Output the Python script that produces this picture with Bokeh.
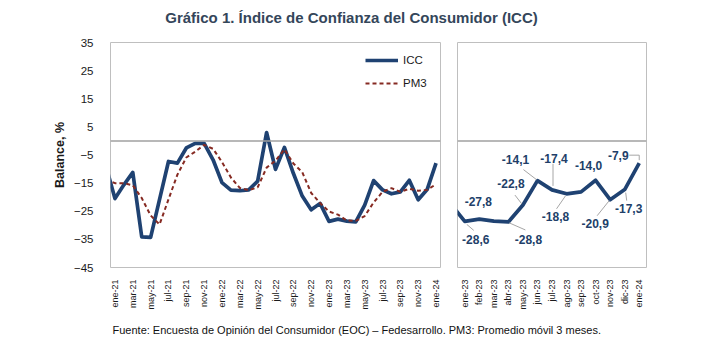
import math
from bokeh.plotting import figure
from bokeh.layouts import column, row
from bokeh.models import (Range1d, FixedTicker, Span, Legend, LegendItem,
                          ColumnDataSource)
from bokeh.core.properties import value
from bokeh.embed import file_html
from bokeh.resources import INLINE

# ---------------- data ----------------
months = ["dic-20",
          "ene-21", "feb-21", "mar-21", "abr-21", "may-21", "jun-21",
          "jul-21", "ago-21", "sep-21", "oct-21", "nov-21", "dic-21",
          "ene-22", "feb-22", "mar-22", "abr-22", "may-22", "jun-22",
          "jul-22", "ago-22", "sep-22", "oct-22", "nov-22", "dic-22",
          "ene-23", "feb-23", "mar-23", "abr-23", "may-23", "jun-23",
          "jul-23", "ago-23", "sep-23", "oct-23", "nov-23", "dic-23",
          "ene-24"]

icc = [-9.0,
       -20.5, -15.6, -11.2, -34.1, -34.3, -20.8, -7.3, -7.9, -2.5, -0.9, -0.9, -6.7,
       -14.8, -17.5, -17.7, -17.4, -14.3, 3.0, -10.1, -2.3, -11.5, -19.6, -24.5, -22.2,
       -28.6, -27.8, -28.5, -28.8, -22.8, -14.1, -17.4, -18.8, -18.1, -14.0, -20.9, -17.3,
       -7.9]

pm3 = [-13.8,
       -15.0, -15.0, -15.8, -20.3, -26.5, -29.7, -20.8, -12.0, -5.9, -3.8, -1.4, -2.8,
       -7.5, -13.0, -16.7, -17.5, -16.5, -9.5, -7.0, -3.0, -8.0, -11.1, -18.5, -22.1,
       -25.1, -26.2, -28.3, -28.4, -26.7, -21.9, -18.1, -16.8, -18.1, -17.0, -17.7, -17.4,
       -15.4]

y_ticks = [-45, -35, -25, -15, -5, 5, 15, 25, 35]

# labelled months in the right panel
label_months = ["ene-23", "feb-23", "abr-23", "may-23", "jun-23", "jul-23",
                "ago-23", "oct-23", "nov-23", "dic-23", "ene-24"]

# ---------------- styles ----------------
FONT = "Liberation Sans"
ICC_COLOR = "#1F4272"
PM3_COLOR = "#862A22"
FRAME_COLOR = "#BFBFBF"
LABEL_COLOR = "#223F69"

# label offsets (px, y down) and leader polylines (px offsets from the point)
label_offsets = {
    "ene-23": (11, 18), "feb-23": (-1, -18), "abr-23": (20, 18),
    "may-23": (-12, -22), "jun-23": (-22, -21), "jul-23": (2, -31),
    "ago-23": (-11, 23), "oct-23": (-7, -15), "nov-23": (-15, 24),
    "dic-23": (4, 19), "ene-24": (-21, -8),
}
leaders = {
    "ene-23": [(2, 3), (9, 9)],
    "abr-23": [(1, 1), (17, 8)],
    "may-23": [(-1, -1), (-8, -10)],
    "jun-23": [(-1, -1), (-14, -11)],
    "jul-23": [(1, -4), (1, -26)],
    "ago-23": [(-1, 2), (-10, 15)],
    "nov-23": [(-1, 1), (-13, 16)],
    "dic-23": [(1, 3), (2, 11)],
    "ene-24": [(-10, -8), (0, -8), (0, -3)],
}

FRAME_H = 225
LEFT_FRAME_W = 330
RIGHT_FRAME_W = 189
TOP = 6
BOTTOM = 50
FIG_H = TOP + FRAME_H + BOTTOM


def style_axes(p):
    p.xgrid.visible = False
    p.ygrid.visible = False
    p.outline_line_color = FRAME_COLOR
    p.outline_line_width = 1
    for ax in (p.xaxis, p.yaxis):
        ax.axis_line_color = None
        ax.major_tick_line_color = None
        ax.minor_tick_line_color = None
        ax.major_label_text_font = FONT
        ax.major_label_text_color = "#1A1A1A"
    p.xaxis.major_label_orientation = math.pi / 2
    p.xaxis.major_label_text_font_size = "9px"
    p.xaxis.major_label_standoff = 6
    p.yaxis.major_label_text_font_size = "11.5px"
    p.yaxis.major_label_standoff = 11
    p.yaxis.ticker = FixedTicker(ticks=y_ticks)
    p.add_layout(Span(location=0, dimension="width", line_color="#A0A0A0",
                      line_width=1.5))


# ---------------- left panel ----------------
n = len(months)
x_all = [i - 1 for i in range(n)]          # dic-20 sits at -1 (outside the axis)
src_left = ColumnDataSource(dict(x=x_all, icc=icc, pm3=pm3))

left = figure(width=102 + LEFT_FRAME_W + 5, height=FIG_H,
              x_range=Range1d(-0.5, n - 1.5), y_range=Range1d(-45, 35),
              output_backend="svg", toolbar_location=None,
              min_border_left=102, min_border_right=5,
              min_border_top=TOP, min_border_bottom=BOTTOM)
style_axes(left)
left_ticks = list(range(0, n - 1, 2))
left.xaxis.ticker = FixedTicker(ticks=left_ticks)
left.xaxis.major_label_overrides = {t: months[t + 1] for t in left_ticks}
left.yaxis.axis_label = "Balance, %"
left.yaxis.axis_label_text_font = FONT
left.yaxis.axis_label_text_font_style = "bold"
left.yaxis.axis_label_text_font_size = "12.5px"
left.yaxis.axis_label_text_color = "#1A1A1A"
left.yaxis.axis_label_standoff = 4

r_icc = left.line("x", "icc", source=src_left, line_color=ICC_COLOR,
                  line_width=3.7, line_join="round")
r_pm3 = left.line("x", "pm3", source=src_left, line_color=PM3_COLOR,
                  line_width=2, line_dash="4 3")

legend = Legend(items=[LegendItem(label="ICC", renderers=[r_icc]),
                       LegendItem(label="PM3", renderers=[r_pm3])],
                location="top_right", border_line_color=None,
                background_fill_alpha=0, padding=7, margin=8,
                glyph_width=33, glyph_height=20, label_height=20,
                label_width=29, label_standoff=5, spacing=3,
                label_text_font=FONT, label_text_font_size="11.5px",
                label_text_color="#1A1A1A")
left.add_layout(legend)

# ---------------- right panel ----------------
start = months.index("dic-22")
right_months = months[start:]
x_r = [i - 1 for i in range(len(right_months))]
src_right = ColumnDataSource(dict(x=x_r, icc=icc[start:]))

right = figure(width=12 + RIGHT_FRAME_W + 2, height=FIG_H,
               x_range=Range1d(-0.5, len(right_months) - 1.5),
               y_range=Range1d(-45, 35),
               output_backend="svg", toolbar_location=None,
               min_border_left=12, min_border_right=2,
               min_border_top=TOP, min_border_bottom=BOTTOM)
style_axes(right)
right.yaxis.visible = False
right_ticks = list(range(0, len(right_months) - 1))
right.xaxis.ticker = FixedTicker(ticks=right_ticks)
right.xaxis.major_label_overrides = {t: right_months[t + 1] for t in right_ticks}
right.line("x", "icc", source=src_right, line_color=ICC_COLOR,
           line_width=3.7, line_join="round")

px_x = RIGHT_FRAME_W / (len(right_months) - 1)
px_y = FRAME_H / 80.0

lx, ly, lt, lxo, lyo = [], [], [], [], []
lead_xs, lead_ys = [], []
for m in label_months:
    xi = right_months.index(m) - 1
    v = icc[months.index(m)]
    dx, dy = label_offsets[m]
    lx.append(xi)
    ly.append(v)
    lt.append(f"{v:.1f}".replace(".", ","))
    lxo.append(dx)
    lyo.append(dy)
    if m in leaders:
        lead_xs.append([xi + ox / px_x for ox, oy in leaders[m]])
        lead_ys.append([v - oy / px_y for ox, oy in leaders[m]])

right.multi_line(lead_xs, lead_ys, line_color="#A6A6A6", line_width=1)
right.text(x=lx, y=ly, text=lt, x_offset=lxo, y_offset=lyo,
           text_font=value(FONT), text_font_style="bold",
           text_font_size="12px", text_color=LABEL_COLOR,
           text_align="center", text_baseline="middle")

# ---------------- title & footer ----------------
TOTAL_W = left.width + right.width

tfig = figure(width=TOTAL_W, height=28, x_range=Range1d(0, TOTAL_W),
              y_range=Range1d(0, 28), output_backend="svg",
              toolbar_location=None, min_border=0)
tfig.axis.visible = False
tfig.grid.visible = False
tfig.outline_line_color = None
tfig.text(x=[343], y=[19], text=["Gráfico 1. Índice de Confianza del Consumidor (ICC)"],
          text_font=value(FONT),
          text_font_style="bold", text_font_size="15px",
          text_color="#34465A", text_align="center", text_baseline="middle")

ffig = figure(width=TOTAL_W, height=22, x_range=Range1d(0, TOTAL_W),
              y_range=Range1d(0, 22), output_backend="svg",
              toolbar_location=None, min_border=0)
ffig.axis.visible = False
ffig.grid.visible = False
ffig.outline_line_color = None
ffig.text(x=[104], y=[10],
          text=["Fuente: Encuesta de Opinión del Consumidor (EOC) – Fedesarrollo. "
                "PM3: Promedio móvil 3 meses."],
          text_font=value(FONT), text_font_size="11px", text_color="#111111",
          text_align="left", text_baseline="middle")

layout = column(tfig, row(left, right), ffig, margin=(8, 8, 8, 8))

open("out.html", "w").write(file_html(layout, INLINE))
